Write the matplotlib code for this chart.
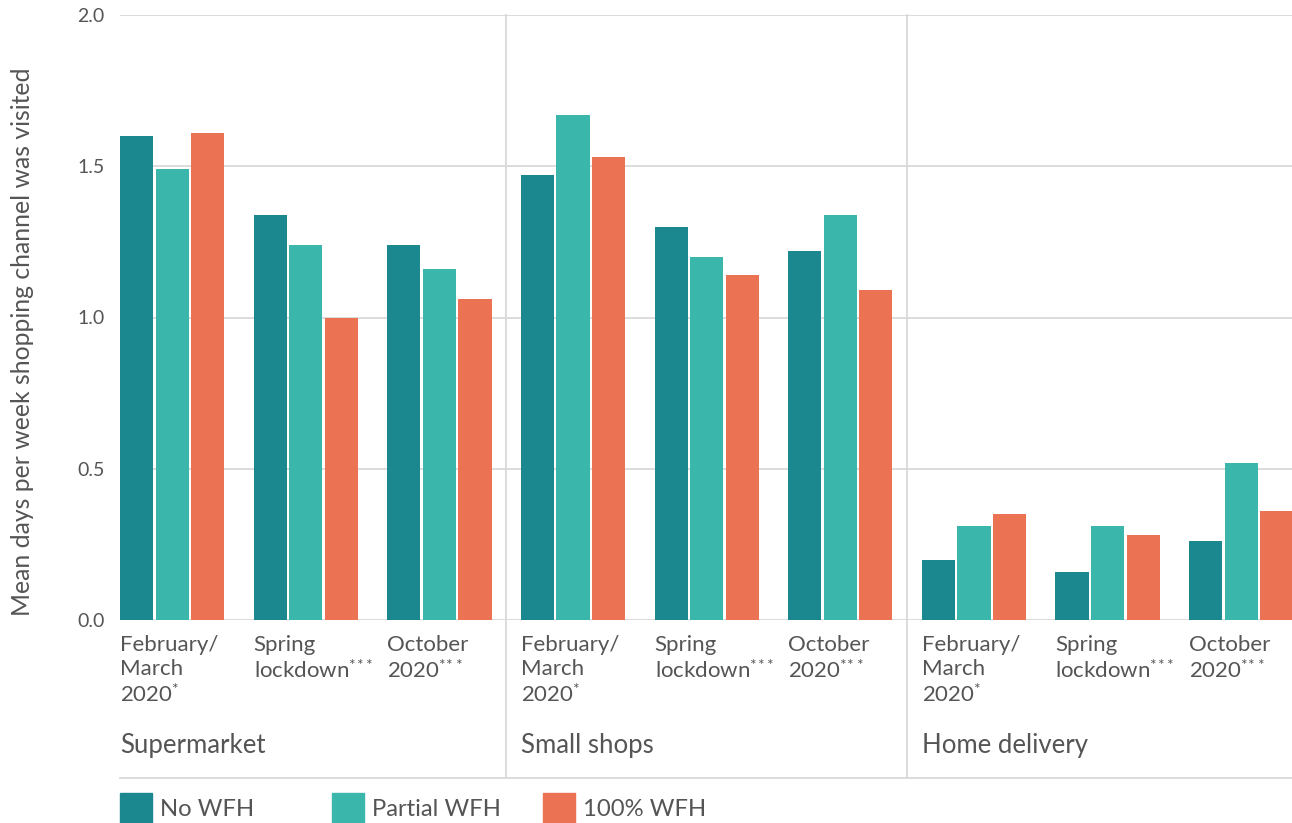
import numpy as np
import matplotlib.pyplot as plt
from matplotlib.patches import Rectangle

plt.rcParams['font.family'] = ['Lato', 'DejaVu Sans']
plt.rcParams['mathtext.fontset'] = 'custom'
plt.rcParams['mathtext.rm'] = 'Lato'
plt.rcParams['mathtext.it'] = 'Lato'

channels = ['Supermarket', 'Small shops', 'Home delivery']
periods = ['February/\nMarch\n2020$^{*}$', 'Spring\nlockdown$^{*\\!*\\!*}$', 'October\n2020$^{*\\!*\\!*}$']
series = ['No WFH', 'Partial WFH', '100% WFH']

no_wfh = [1.60, 1.34, 1.24, 1.47, 1.30, 1.22, 0.20, 0.16, 0.26]
partial_wfh = [1.49, 1.24, 1.16, 1.67, 1.20, 1.34, 0.31, 0.31, 0.52]
full_wfh = [1.61, 1.00, 1.06, 1.53, 1.14, 1.09, 0.35, 0.28, 0.36]

colors = ['#1b8890', '#3ab6ab', '#eb7353']
text_color = '#555555'
grid_color = '#d9d9d9'

fig = plt.figure(figsize=(12.92, 8.23), dpi=100)
ax = fig.add_axes([120 / 1292, 1 - 620 / 823, 1 - 120 / 1292, 605 / 823])

x = np.arange(9)
width = 0.248
step = 0.266
for i, vals in enumerate([no_wfh, partial_wfh, full_wfh]):
    ax.bar(x + i * step, vals, width=width, align='edge', color=colors[i], zorder=3)

ax.set_xlim(0, 8.77)
ax.set_ylim(0, 2.0)
ax.set_yticks([0.0, 0.5, 1.0, 1.5, 2.0])
ax.set_yticklabels(['0.0', '0.5', '1.0', '1.5', '2.0'])
ax.yaxis.grid(True, color=grid_color, linewidth=1.3, zorder=0)
ax.set_xticks([])
for s in ax.spines.values():
    s.set_visible(False)
ax.tick_params(axis='y', length=0, pad=11, labelsize=14, labelcolor=text_color)
fig.text(23 / 1292, 1 - 342 / 823, 'Mean days per week shopping channel was visited',
         rotation=90, ha='center', va='center', fontsize=17.8, color=text_color)

# period labels under each cluster, channel names under each block
for k in range(9):
    ax.text(k, -0.05, periods[k % 3], ha='left', va='top', fontsize=16,
            color=text_color, linespacing=1.23)
for b, name in enumerate(channels):
    ax.text(b * 3, -0.415, name, ha='left', va='center', fontsize=18.5, color=text_color)

# block separators and bottom rule
y_bottom = -0.522
for xs in [2.89, 5.89]:
    ax.plot([xs, xs], [2.0, y_bottom], color=grid_color, linewidth=1.3, clip_on=False)
ax.plot([0, 8.77], [y_bottom, y_bottom], color=grid_color, linewidth=1.3, clip_on=False)

# legend row
legend_x = [120, 332, 543]
for lx, name, c in zip(legend_x, series, colors):
    fig.patches.append(Rectangle((lx / 1292, 0), 32 / 1292, 30 / 823,
                                 transform=fig.transFigure, color=c))
    fig.text((lx + 40) / 1292, 1 - 809 / 823, name, ha='left', va='center',
             fontsize=17.2, color=text_color)

fig.savefig('out.png', dpi=100, facecolor='white')
